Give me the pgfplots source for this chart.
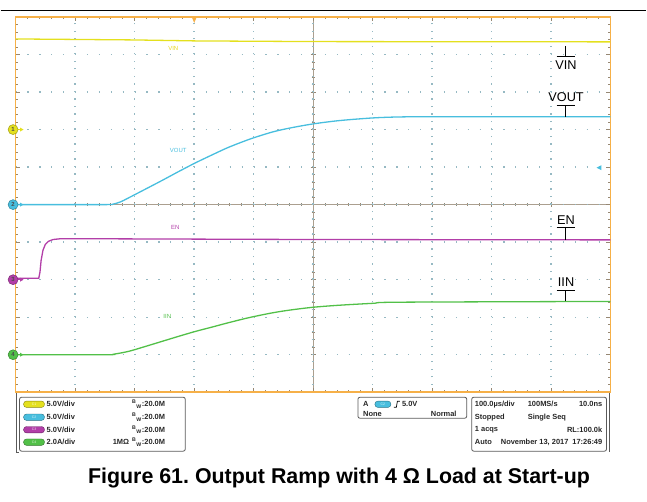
\documentclass[border=0pt]{standalone}
\usepackage{pgfplots}
\usepackage{pgfplotstable}
\pgfplotsset{compat=1.18}
\usepackage{fontspec}
\setmainfont{Liberation Sans}
\frenchspacing
\definecolor{cvin}{RGB}{228,224,30}
\definecolor{cvout}{RGB}{72,190,222}
\definecolor{cen}{RGB}{178,62,168}
\definecolor{ciin}{RGB}{82,192,72}
\definecolor{corange}{RGB}{246,176,72}
\definecolor{cgrid}{RGB}{150,185,195}
\definecolor{ctick}{RGB}{150,135,115}
\definecolor{cbox}{RGB}{90,90,90}

% time in microseconds, values in volts / amperes
\pgfplotstableread{
t v
0 12.07
198 11.94
302 11.81
500 11.72
1000 11.68
}\vin
\pgfplotstableread{
t v
0 0
150 0
163 0.05
176 0.35
190 0.9
218 2.05
247 3.25
274 4.4
302 5.55
331 6.65
357 7.6
386 8.5
406 9.05
433 9.7
461 10.2
500 10.75
545 11.2
601 11.55
646 11.68
700 11.7
1000 11.7
}\vout
\pgfplotstableread{
t v
0 0.2
39 0.2
41 1.0
43 2.6
46 3.9
50 4.7
55 5.1
63 5.35
75 5.45
130 5.45
500 5.35
1000 5.3
}\en
\pgfplotstableread{
t i
0 0
150 0
165 0.03
190 0.18
218 0.44
247 0.72
274 0.98
302 1.24
331 1.48
357 1.70
386 1.93
406 2.07
433 2.24
461 2.38
500 2.53
545 2.64
601 2.74
646 2.80
1000 2.84
}\iin

\begin{document}
\begin{tikzpicture}[x=1bp,y=1bp]
\path (0,0) rectangle (647,502);
\draw[line width=1.2bp] (0,491.5) -- (647,491.5);

% centre cross of the graticule
\begin{axis}[at={(15bp,109bp)}, anchor=south west, scale only axis,
  width=596bp, height=376bp, xmin=-5, xmax=5, ymin=-5, ymax=5,
  axis lines=center, axis line style={ctick!80,-,line width=0.8bp},
  xtick={-4,...,4}, ytick={-4,...,4}, minor tick num=4, tick align=center,
  major tick length=5bp, minor tick length=3bp,
  xticklabels={}, yticklabels={}, tick style={ctick,line width=0.6bp}]
\end{axis}

\begin{axis}[at={(15bp,109bp)}, anchor=south west, scale only axis,
  width=596bp, height=376bp, xmin=0, xmax=1000, ymin=0, ymax=10,
  xtick={0,100,...,1000}, ytick={0,...,10},
  minor x tick num=4, minor y tick num=4,
  xticklabels={}, yticklabels={}, tick pos=both, tick align=inside,
  major tick length=4bp, minor tick length=2.5bp,
  tick style={ctick,line width=0.6bp},
  axis line style={corange,line width=1.8bp},
  grid=major,
  x grid style={cgrid,line width=1.4bp,dash pattern=on 1.2bp off 6.32bp},
  y grid style={cgrid,line width=1.4bp,dash pattern=on 1.2bp off 10.72bp},
  every axis plot/.append style={line width=1.3bp}]
\addplot[cvin] table[x=t, y expr=7+\thisrow{v}/5] {\vin};
\addplot[cvout, smooth] table[x=t, y expr=5+\thisrow{v}/5] {\vout};
\addplot[cen] table[x=t, y expr=3+\thisrow{v}/5] {\en};
\addplot[ciin, smooth] table[x=t, y expr=1+\thisrow{i}/2] {\iin};
\end{axis}

% trigger markers
\fill[corange] (191.5,485) -- (196.5,485) -- (194,479) -- cycle;
\fill[cvout] (597,334) -- (602,336.5) -- (602,331.5) -- cycle;

% channel markers
\foreach \y/\c/\n in {372.2/cvin/1, 297/cvout/2, 221.8/cen/3, 146.6/ciin/4}{
  \draw[\c, line width=1bp] (16,\y) -- (21,\y);
  \fill[\c] (23,\y) -- (19.5,\y+2) -- (19.5,\y-2) -- cycle;
  \node[circle, fill=\c, draw=\c!70!black, line width=0.5bp, inner sep=0pt,
    minimum size=10bp, font=\fontsize{6}{6}\selectfont\bfseries, text=black!70]
    at (12.5,\y) {\n};
}

% small trace labels
\node[text=cvin!90!orange, font=\fontsize{6}{6}\selectfont] at (173,453) {VIN};
\node[text=cvout, font=\fontsize{6}{6}\selectfont] at (178,351) {VOUT};
\node[text=cen, font=\fontsize{6}{6}\selectfont] at (175,274) {EN};
\node[text=ciin, font=\fontsize{6}{6}\selectfont] at (167,185) {IIN};

% right-hand labels
\begin{scope}[line width=1bp]
\node[font=\fontsize{12.8}{14}\selectfont] at (566.5,437) {VIN};
\draw (565.7,456) -- (565.7,445); \draw (557,445) -- (575,445);
\node[font=\fontsize{12.8}{14}\selectfont] at (566.5,405) {VOUT};
\draw (557,396) -- (575,396); \draw (565.7,396) -- (565.7,385);
\node[font=\fontsize{12.8}{14}\selectfont] at (566.5,281) {EN};
\draw (557,274) -- (575,274); \draw (565.7,274) -- (565.7,262);
\node[font=\fontsize{12.8}{14}\selectfont] at (566.5,219) {IIN};
\draw (557,211) -- (575,211); \draw (565.7,211) -- (565.7,200);
\end{scope}

% bottom info panel
\draw[cbox, line width=0.8bp, rounded corners=2bp] (19,104) rectangle (185,50);
\draw[cbox, line width=0.8bp, rounded corners=2bp] (358,104) rectangle (467,83);
\draw[cbox, line width=0.8bp, rounded corners=2bp] (472,104) rectangle (607,50);
\draw[cbox, line width=0.6bp] (16,108) -- (16,49) -- (18,49);
\draw[cbox, line width=0.6bp] (610,108) -- (610,49);

\tikzset{pill/.style={rounded corners=3bp, fill=#1, draw=#1!60!black, line width=0.4bp},
  ptxt/.style={font=\fontsize{7.5}{8}\selectfont\bfseries, text=black!85, inner sep=0pt}}
\foreach \y/\c/\n/\s in {97/cvin/C1/5.0V\slash div, 84/cvout/C2/5.0V\slash div,
                          71.5/cen/C3/5.0V\slash div, 59/ciin/C4/2.0A\slash div}{
  \draw[pill=\c] (23,\y-3.2) rectangle (44,\y+3.2);
  \node[font=\fontsize{3.5}{4}\selectfont, text=white!80!\c] at (33.5,\y) {\n};
  \node[ptxt, anchor=west] at (46,\y) {\s};
  \node[ptxt, anchor=east] at (165,\y) {\textsuperscript{B}\textsubscript{W}:20.0M};
}
\node[ptxt, anchor=east] at (129,59) {1MΩ};

\node[ptxt, anchor=west] at (363,97) {A};
\draw[pill=cvout] (375,93.8) rectangle (391,100.2);
\node[font=\fontsize{3.5}{4}\selectfont, text=white!80!cvout] at (383,97) {C2};
\draw[line width=0.7bp] (394,94) -- (396.5,94) -- (397.5,100) -- (400,100);
\node[ptxt, anchor=west] at (402,97) {5.0V};
\node[ptxt, anchor=west] at (363,87.5) {None};
\node[ptxt, anchor=east] at (457,87.5) {Normal};

\node[ptxt, anchor=west] at (475,97) {100.0µs/div};
\node[ptxt, anchor=west] at (528,97) {100MS/s};
\node[ptxt, anchor=east] at (603,97) {10.0ns};
\node[ptxt, anchor=west] at (475,84) {Stopped};
\node[ptxt, anchor=west] at (528,84) {Single Seq};
\node[ptxt, anchor=west] at (475,71.5) {1 acqs};
\node[ptxt, anchor=east] at (603,71.5) {RL:100.0k};
\node[ptxt, anchor=west] at (475,59) {Auto};
\node[ptxt, anchor=west] at (501,59) {November 13, 2017};
\node[ptxt, anchor=east] at (603,59) {17:26:49};

% caption
\node[anchor=base, inner sep=0pt, font=\fontsize{21.5}{24}\selectfont\bfseries] at (339,18)
  {Figure 61. Output Ramp with 4 Ω Load at Start-up};
\end{tikzpicture}
\end{document}
